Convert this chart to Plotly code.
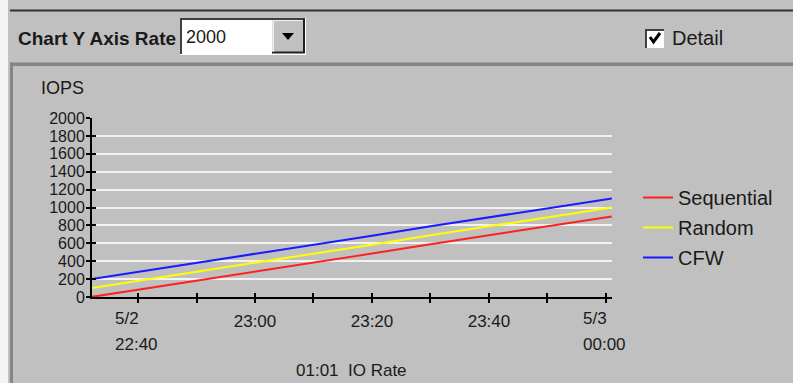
import plotly.graph_objects as go

# ---------------- data ----------------
times = ["2010-05-02 22:32", "2010-05-02 22:40", "2010-05-02 22:50", "2010-05-02 23:00",
         "2010-05-02 23:10", "2010-05-02 23:20", "2010-05-02 23:30", "2010-05-02 23:40",
         "2010-05-02 23:50", "2010-05-03 00:00", "2010-05-03 00:01"]
sequential = [0, 80, 180, 280, 385, 485, 590, 690, 790, 890, 900]
random_io = [100, 180, 280, 385, 485, 585, 690, 790, 890, 990, 1000]
cfw = [200, 280, 380, 480, 585, 685, 790, 890, 990, 1090, 1100]

series_names = ["Sequential", "Random", "CFW"]
series_colors = ["#ff2020", "#ffff00", "#1a1aff"]

x_tickvals = ["2010-05-02 22:40", "2010-05-02 22:50", "2010-05-02 23:00", "2010-05-02 23:10",
              "2010-05-02 23:20", "2010-05-02 23:30", "2010-05-02 23:40", "2010-05-02 23:50",
              "2010-05-03 00:00"]
x_ticktext = ["", "", "23:00", "", "23:20", "", "23:40", "", ""]
y_tickvals = [0, 200, 400, 600, 800, 1000, 1200, 1400, 1600, 1800, 2000]
x_range = ["2010-05-02 22:32:08", "2010-05-03 00:01:02"]
y_range = [0, 2000]

# ---------------- geometry (pixels) ----------------
W, H = 793, 383
L, R, T, B = 92, 612, 118, 297
BG = "#c0c0c0"
TXT = "#1a1a1a"
FONT = "Liberation Sans"


def px(x):
    return (x - L) / (R - L)


def py(y):
    return (B - y) / (B - T)


fig = go.Figure()
for name, vals, col in zip(series_names, [sequential, random_io, cfw], series_colors):
    fig.add_trace(go.Scatter(x=times, y=vals, name=name, mode="lines",
                             line=dict(color=col, width=2), legendgroup=name))

# invisible helper trace for the overlay axes (crossing tick marks)
fig.add_trace(go.Scatter(x=times, y=sequential, xaxis="x2", yaxis="y2", mode="lines",
                         line=dict(width=0, color="rgba(0,0,0,0)"), showlegend=False,
                         hoverinfo="skip"))

shapes = []
# left light strip
shapes.append(dict(type="rect", xref="paper", yref="paper", x0=px(0), x1=px(8), y0=py(0), y1=py(H),
                   fillcolor="#f4f4f4", line=dict(width=0), layer="below"))
# top dark rule
shapes.append(dict(type="line", xref="paper", yref="paper", x0=px(10), x1=px(W), y0=py(10.5), y1=py(10.5),
                   line=dict(color="#333333", width=2)))
# panel border
shapes.append(dict(type="rect", xref="paper", yref="paper", x0=px(10), x1=px(W), y0=py(62.5), y1=py(66),
                   fillcolor="#858585", line=dict(width=0)))
shapes.append(dict(type="rect", xref="paper", yref="paper", x0=px(10), x1=px(13), y0=py(62.5), y1=py(H),
                   fillcolor="#858585", line=dict(width=0)))
# combo box
shapes.append(dict(type="rect", xref="paper", yref="paper", x0=px(180), x1=px(306), y0=py(18), y1=py(55),
                   fillcolor="#ffffff", line=dict(width=0)))
shapes.append(dict(type="line", xref="paper", yref="paper", x0=px(180), x1=px(305), y0=py(19), y1=py(19),
                   line=dict(color="#404040", width=2)))
shapes.append(dict(type="line", xref="paper", yref="paper", x0=px(181), x1=px(181), y0=py(18), y1=py(54),
                   line=dict(color="#404040", width=2)))
# dropdown button
shapes.append(dict(type="rect", xref="paper", yref="paper", x0=px(272.5), x1=px(304), y0=py(20), y1=py(53),
                   fillcolor=BG, line=dict(width=0)))
shapes.append(dict(type="line", xref="paper", yref="paper", x0=px(304), x1=px(304), y0=py(19), y1=py(53),
                   line=dict(color="#202020", width=2)))
shapes.append(dict(type="line", xref="paper", yref="paper", x0=px(272), x1=px(305), y0=py(52.5), y1=py(52.5),
                   line=dict(color="#202020", width=2)))
shapes.append(dict(type="line", xref="paper", yref="paper", x0=px(273.5), x1=px(273.5), y0=py(20), y1=py(52),
                   line=dict(color="#f0f0f0", width=1)))
shapes.append(dict(type="line", xref="paper", yref="paper", x0=px(273), x1=px(303), y0=py(20.5), y1=py(20.5),
                   line=dict(color="#f0f0f0", width=1)))
shapes.append(dict(type="path", xref="paper", yref="paper",
                   path="M {} {} L {} {} L {} {} Z".format(px(282), py(33), px(294), py(33), px(288), py(40)),
                   fillcolor="#000000", line=dict(width=0)))
# checkbox
shapes.append(dict(type="rect", xref="paper", yref="paper", x0=px(645), x1=px(664), y0=py(29), y1=py(48),
                   fillcolor="#ffffff", line=dict(width=0)))
shapes.append(dict(type="line", xref="paper", yref="paper", x0=px(645), x1=px(664), y0=py(30), y1=py(30),
                   line=dict(color="#404040", width=2)))
shapes.append(dict(type="line", xref="paper", yref="paper", x0=px(646), x1=px(646), y0=py(29), y1=py(48),
                   line=dict(color="#404040", width=2)))
shapes.append(dict(type="path", xref="paper", yref="paper",
                   path="M {} {} L {} {} L {} {}".format(px(650), py(37), px(653.5), py(42), px(660), py(33)),
                   line=dict(color="#000000", width=3)))

annotations = []


def label(x, y, text, size=17, anchor="left", bold=False):
    t = "<b>{}</b>".format(text) if bold else text
    annotations.append(dict(x=x, y=py(y), xref="paper", yref="paper", text=t, showarrow=False,
                            xanchor=anchor, yanchor="middle",
                            font=dict(family=FONT, size=size, color=TXT)))


label(px(16), 38, "Chart Y Axis Rate", size=19, bold=True)
label(px(184), 37, "2000", size=18)
label(px(670), 38, "Detail", size=20)
label(px(39), 88, "IOPS", size=18)
label(px(351), 370, "01:01  IO Rate", size=17, anchor="center")
# two-line date labels at the axis ends
for xv, top, bottom in [(x_tickvals[0], "5/2", "22:40"), (x_tickvals[-1], "5/3", "00:00")]:
    for txt, yy in [(top, 318), (bottom, 344)]:
        annotations.append(dict(x=xv, y=py(yy), xref="x", yref="paper", text=txt, showarrow=False,
                                xanchor="left", yanchor="middle", xshift=-25,
                                font=dict(family=FONT, size=17, color=TXT)))

fig.update_layout(
    width=W, height=H,
    margin=dict(l=L, r=W - R, t=T, b=H - B, pad=0),
    paper_bgcolor=BG, plot_bgcolor=BG,
    font=dict(family=FONT, size=17, color=TXT),
    showlegend=True,
    legend=dict(x=px(638), y=py(178), xanchor="left", yanchor="top",
                bgcolor="rgba(0,0,0,0)", font=dict(family=FONT, size=20, color=TXT),
                tracegroupgap=1, itemwidth=30),
    xaxis=dict(type="date", range=x_range, tickvals=x_tickvals, ticktext=x_ticktext,
               ticks="outside", ticklen=4, tickwidth=2, tickcolor="#000000",
               showline=True, linecolor="#000000", linewidth=2, showgrid=False, zeroline=False,
               tickfont=dict(family=FONT, size=17, color=TXT), ticklabelstandoff=4,
               fixedrange=True),
    yaxis=dict(range=y_range, tickvals=y_tickvals, ticks="outside", ticklen=4, tickwidth=2,
               tickcolor="#000000", showline=True, linecolor="#000000", linewidth=2,
               showgrid=True, gridcolor="#f2f2f2", gridwidth=2, zeroline=False,
               tickfont=dict(family=FONT, size=16, color=TXT), ticklabelstandoff=-2,
               fixedrange=True),
    xaxis2=dict(type="date", overlaying="x", anchor="y2", side="bottom", range=x_range,
                tickvals=x_tickvals, ticks="inside", ticklen=4, tickwidth=2, tickcolor="#000000",
                showticklabels=False, showline=False, showgrid=False, zeroline=False, fixedrange=True),
    yaxis2=dict(overlaying="y", anchor="x2", side="left", range=y_range, tickvals=y_tickvals,
                ticks="inside", ticklen=4, tickwidth=2, tickcolor="#000000",
                showticklabels=False, showline=False, showgrid=False, zeroline=False, fixedrange=True),
    shapes=shapes,
    annotations=annotations,
)

fig.write_html("out.html", config={"displayModeBar": False},
               post_script="document.body.style.margin='0';document.body.style.overflow='hidden';")
